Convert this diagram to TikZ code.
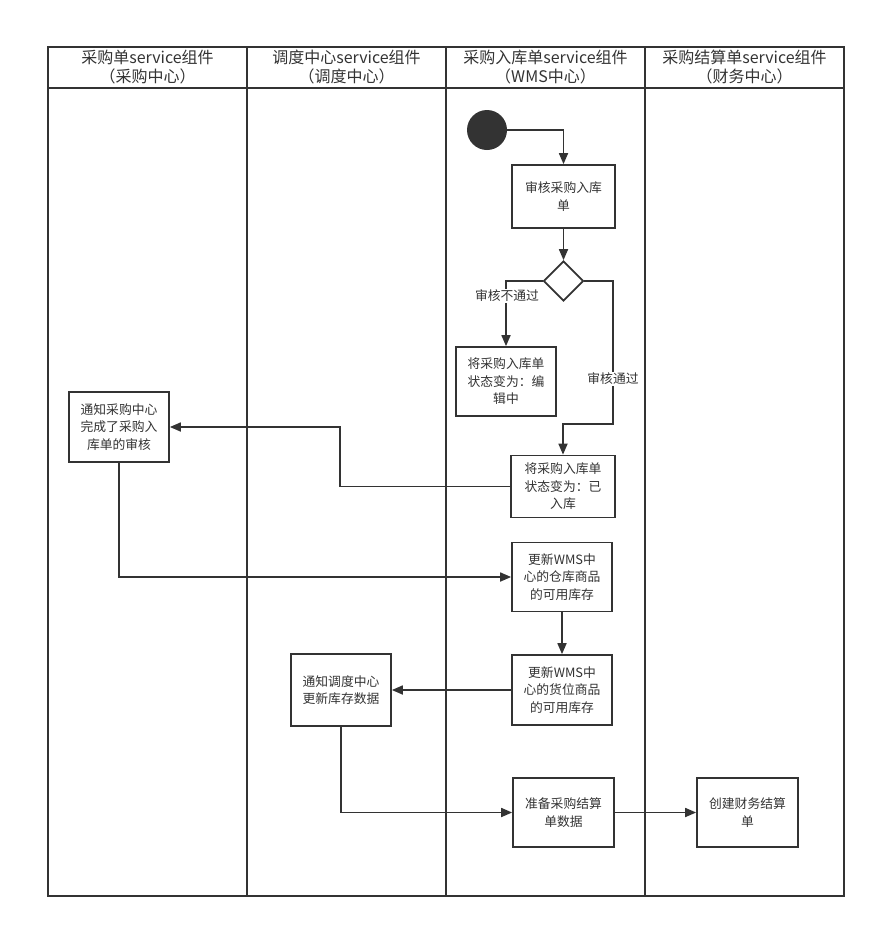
\documentclass[tikz,border=0pt]{standalone}
\usepackage{fontspec}
\setmainfont{Noto Sans CJK SC}
\usetikzlibrary{arrows.meta,shapes.geometric}
\definecolor{ink}{HTML}{333333}
\begin{document}
\begin{tikzpicture}[x=1pt,y=-1pt,
  lane/.style={draw=ink,line width=1.7pt},
  box/.style={draw=ink,line width=1.7pt,rectangle,inner sep=0pt,align=center,text=ink,font=\fontsize{12.8}{17.5}\selectfont,fill=white},
  head/.style={align=center,text=ink,font=\fontsize{16}{19}\selectfont,inner sep=0pt},
  flow/.style={draw=ink,line width=1.7pt,-{Triangle[length=11pt,width=9pt]}},
  lbl/.style={fill=white,text=ink,font=\fontsize{12.8}{14}\selectfont,inner sep=1pt}]
\useasboundingbox (0,0) rectangle (876,929);
% swimlanes
\draw[lane] (48,47) rectangle (844,896);
\draw[lane] (48,88) -- (844,88);
\foreach \x in {247,446,645} \draw[lane] (\x,47) -- (\x,896);
\node[head] (h1) at (147.5,67.5) {采购单service组件\\（采购中心）};
\node[head] (h2) at (346.5,67.5) {调度中心service组件\\（调度中心）};
\node[head] (h3) at (545.5,67.5) {采购入库单service组件\\（WMS中心）};
\node[head] (h4) at (744.5,67.5) {采购结算单service组件\\（财务中心）};
% nodes
\node[circle,fill=ink,minimum size=40pt,inner sep=0pt] (start) at (487,130) {};
\node[box,minimum width=103pt,minimum height=63pt] (shenhe) at (563.5,196.5) {审核采购入库\\单};
\node[diamond,draw=ink,line width=1.7pt,minimum width=40pt,minimum height=40pt,inner sep=0pt,fill=white] (dec) at (563.5,281) {};
\node[box,minimum width=100pt,minimum height=69pt] (bianji) at (506,381.5) {将采购入库单\\状态变为：编\\辑中};
\node[box,minimum width=104pt,minimum height=62pt] (yiruku) at (563,486.5) {将采购入库单\\状态变为：已\\入库};
\node[box,minimum width=100pt,minimum height=70pt] (tongzhi) at (119,427) {通知采购中心\\完成了采购入\\库单的审核};
\node[box,minimum width=100pt,minimum height=69pt] (cangku) at (562,577) {更新WMS中\\心的仓库商品\\的可用库存};
\node[box,minimum width=100pt,minimum height=70pt] (huowei) at (562,690) {更新WMS中\\心的货位商品\\的可用库存};
\node[box,minimum width=100pt,minimum height=72pt] (diaodu) at (341,690) {通知调度中心\\更新库存数据};
\node[box,minimum width=101pt,minimum height=69pt] (zhunbei) at (563.5,812.5) {准备采购结算\\单数据};
\node[box,minimum width=101pt,minimum height=69pt] (caiwu) at (747.5,812.5) {创建财务结算\\单};
% bend points
\coordinate (c1) at (613,281);
\coordinate (c2) at (613,424);
\coordinate (c3) at (340,486.5);
% connectors
\draw[flow] (start.east) -| (shenhe.north);
\draw[flow] (shenhe.south) -- (dec.north);
\draw[flow] (dec.west) -| (bianji.north);
\draw[flow] (dec.east) -- (c1) -- (c2) -| (yiruku.north);
\draw[flow] (yiruku.west) -- (c3) |- (tongzhi.east);
\draw[flow] (tongzhi.south) |- (cangku.west);
\draw[flow] (cangku.south) -- (huowei.north);
\draw[flow] (huowei.west) -- (diaodu.east);
\draw[flow] (diaodu.south) |- (zhunbei.west);
\draw[flow] (zhunbei.east) -- (caiwu.west);
% labels
\node[lbl] (l1) at (507,296) {审核不通过};
\node[lbl] (l2) at (613,379) {审核通过};
\end{tikzpicture}
\end{document}
